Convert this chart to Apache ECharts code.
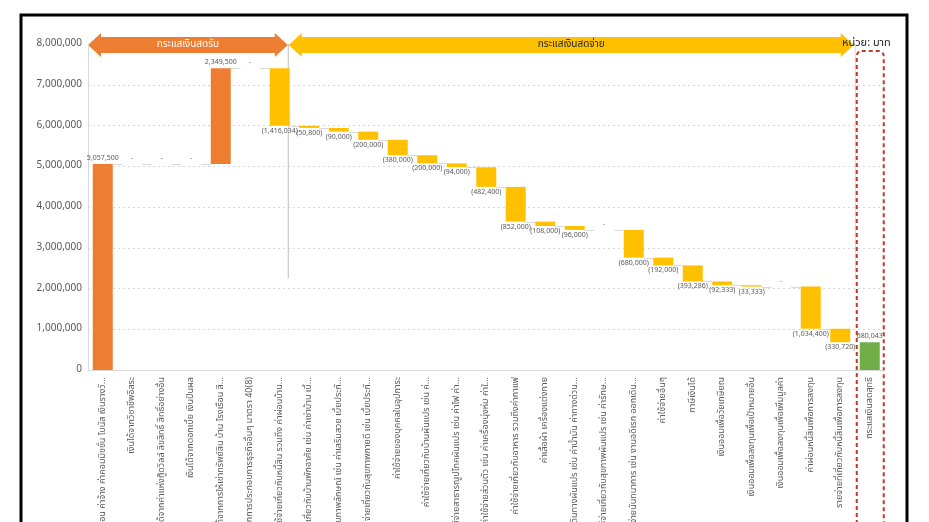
<!DOCTYPE html>
<html>
<head>
<meta charset="utf-8">
<script src="https://cdn.jsdelivr.net/npm/echarts@6/dist/echarts.min.js"></script>
<style>
html,body{margin:0;padding:0;background:#fff;}
#c{width:929px;height:522px;}
</style>
</head>
<body>
<div id="c"></div>
<script>
// ---- data ----
const categories = [
  "เงินเดือน ค่าจ้าง ค่าคอมมิชชั่น โบนัส เงินรางวั...",
  "เงินได้จากวิชาชีพอิสระ",
  "เงินได้จากค่าแห่งกู๊ดวิลล์ ลิขสิทธิ์ สิทธิ์อย่างอื่น",
  "เงินได้จากดอกเบี้ย เงินปันผล",
  "เงินได้จากการให้เช่าทรัพย์สิน บ้าน โรงเรือน สิ...",
  "เงินได้จากการประกอบการธุรกิจอื่นๆ มาตรา 40(8)",
  "ค่าใช้จ่ายเกี่ยวกับหนี้สิน รวมถึง ค่าผ่อนบ้าน...",
  "ค่าใช้จ่ายเกี่ยวกับบ้านพักอาศัย เช่น ค่าเช่าบ้าน เบี้...",
  "ค่าใช้จ่ายเกี่ยวกับภาพลักษณ์ เช่น ค่าเสริมสวย เบี้ยประกั...",
  "ค่าใช้จ่ายเกี่ยวกับสุขภาพกายดี เช่น เบี้ยประกั...",
  "ค่าใช้จ่ายของบุคคลในอุปการะ",
  "ค่าใช้จ่ายเกี่ยวกับบ้านผันแปร เช่น ค่...",
  "ค่าใช้จ่ายสาธารณูปโภคผันแปร เช่น ค่าไฟ ค่า...",
  "ค่าใช้จ่ายส่วนตัว เช่น ค่าเครื่องนุ่งห่ม ค่าใ...",
  "ค่าใช้จ่ายเกี่ยวกับอาหาร รวมถึงค่ากาแฟ",
  "ค่าเสื้อผ้า เครื่องแต่งกาย",
  "ค่าใช้จ่ายการเดินทางผันแปร เช่น ค่าน้ำมัน ค่าทางด่วน...",
  "ค่าใช้จ่ายเกี่ยวกับสุขภาพผันแปร เช่น ค่ารักษ...",
  "ค่าใช้จ่ายนันทนาการ เช่น งานอดิเรก ออกเดิน...",
  "ค่าใช้จ่ายอื่นๆ",
  "ภาษีเงินได้",
  "เงินออมเพื่อวัยเกษียณ",
  "เงินออมเพื่อลงทุนเพื่อเป้าหมายอื่น",
  "เงินออมเพื่อลงทุนเพื่อเพิ่มมูลค่า",
  "ค่าผ่อนหนี้สินเพื่อการลงทุน",
  "รายจ่ายที่เกี่ยวกับหนี้สินเพื่อการลงทุน",
  "กระแสเงินสดสุทธิ"
];
const incomeValues = [5057500, 0, 0, 0, 2349500, 0];
const expenseValues = [1416034, 50800, 90000, 200000, 380000, 200000, 94000, 482400,
  852000, 108000, 96000, 0, 680000, 192000, 393286, 92333, 33333, 0, 1034400, 330720];
const netCashFlow = 680043;
const yTicks = [0, 1000000, 2000000, 3000000, 4000000, 5000000, 6000000, 7000000, 8000000];

// ---- build waterfall ----
const fmt = v => v.toLocaleString('en-US');
const n = categories.length;
const base = [], inc = [], exp = [], net = [], levels = [];
let run = 0;
incomeValues.forEach((v, i) => {
  base.push(run);
  inc.push({value: v, label: {formatter: v === 0 ? '-' : fmt(v)}});
  exp.push('-'); net.push('-');
  run += v; levels.push(run);
});
expenseValues.forEach((v) => {
  base.push(run - v);
  inc.push('-'); net.push('-');
  exp.push(v === 0
    ? {value: 0, label: {position: 'top', formatter: '-'}}
    : {value: v, label: {position: 'bottom', formatter: '(' + fmt(v) + ')'}});
  run -= v; levels.push(run);
});
base.push(0); inc.push('-'); exp.push('-');
net.push({value: netCashFlow, label: {formatter: fmt(netCashFlow)}});
const connectors = [];
for (let i = 0; i < n - 2; i++) connectors.push([i, levels[i]]);

const FONT = '"Noto Sans Thai", "Noto Sans", "DejaVu Sans", sans-serif';
const BW = 20;
const chart = echarts.init(document.getElementById('c'));
const lbl = {show: true, fontSize: 7, color: '#595959', fontFamily: FONT, distance: 2};
chart.setOption({
  animation: false,
  textStyle: {fontFamily: FONT},
  grid: {left: 88, right: 44.5, top: 44, bottom: 152, containLabel: false, outerBoundsMode: 'none'},
  xAxis: {
    type: 'category', data: categories,
    axisLine: {show: true, lineStyle: {color: '#d9d9d9'}},
    axisTick: {show: false},
    axisLabel: {interval: 0, rotate: 90, fontSize: 9, color: '#595959', margin: 7, fontFamily: FONT}
  },
  yAxis: {
    type: 'value', min: yTicks[0], max: yTicks[yTicks.length - 1], interval: 1000000,
    axisLine: {show: true, lineStyle: {color: '#d9d9d9'}},
    axisTick: {show: false},
    splitLine: {show: true, lineStyle: {color: '#d9d9d9', type: [2, 3]}},
    axisLabel: {fontSize: 10, color: '#595959', margin: 6, formatter: v => fmt(v), fontFamily: FONT}
  },
  series: [
    {type: 'bar', stack: 'w', data: base, barWidth: BW, itemStyle: {color: 'transparent'}, silent: true},
    {type: 'bar', stack: 'w', data: inc, barWidth: BW, itemStyle: {color: '#ED7D31'},
     label: Object.assign({}, lbl, {position: 'top'})},
    {type: 'bar', stack: 'w', data: exp, barWidth: BW, itemStyle: {color: '#FFC000'},
     label: Object.assign({}, lbl, {position: 'bottom'})},
    {type: 'bar', stack: 'w', data: net, barWidth: BW, itemStyle: {color: '#70AD47'},
     label: Object.assign({}, lbl, {position: 'top'})},
    {type: 'custom', data: connectors, z: 1, silent: true,
     renderItem: (params, api) => {
       const p = api.coord([api.value(0), api.value(1)]);
       const band = api.size([1, 0])[0];
       const y = Math.round(p[1]) + 0.5;
       return {type: 'line', shape: {x1: p[0] + BW / 2, y1: y, x2: p[0] + band - BW / 2, y2: y},
               style: {stroke: '#d9d9d9', lineWidth: 1}};
     }}
  ]
});

// ---- decorations (arrows, separators, frame) ----
function arrowPts(x1, x2, cy, bh, hh, hl) {
  return [[x1, cy], [x1 + hl, cy - hh], [x1 + hl, cy - bh], [x2 - hl, cy - bh], [x2 - hl, cy - hh],
          [x2, cy], [x2 - hl, cy + hh], [x2 - hl, cy + bh], [x1 + hl, cy + bh], [x1 + hl, cy + hh]];
}
const x6 = chart.convertToPixel({xAxisIndex: 0}, 6);
const x26 = chart.convertToPixel({xAxisIndex: 0}, 26);
const sep1 = x6 + 8;
const sep2 = x26 - 15;
const yTop = chart.convertToPixel({yAxisIndex: 0}, 8000000);
const yMid = chart.convertToPixel({yAxisIndex: 0}, 2250000);
chart.setOption({
  graphic: [
    {type: 'rect', shape: {x: 21, y: 15, width: 886, height: 600}, style: {fill: 'none', stroke: '#000', lineWidth: 3}, z: 100},
    {type: 'line', shape: {x1: sep1 + 0.5, y1: yTop, x2: sep1 + 0.5, y2: yMid}, style: {stroke: '#bfbfbf', lineWidth: 1}},
    {type: 'line', shape: {x1: sep2 + 0.5, y1: yTop, x2: sep2 + 0.5, y2: yMid}, style: {stroke: '#d9d9d9', lineWidth: 1}},
    {type: 'polygon', shape: {points: arrowPts(88, sep1, 45, 8, 12, 13)}, style: {fill: '#ED7D31'}},
    {type: 'polygon', shape: {points: arrowPts(sep1 + 1, sep2 - 1, 45, 8, 12, 13)}, style: {fill: '#FFC000'}},
    {type: 'text', x: (88 + sep1) / 2, y: 45, style: {text: 'กระแสเงินสดรับ', fill: '#fff', fontSize: 10, fontFamily: FONT, align: 'center', verticalAlign: 'middle'}},
    {type: 'text', x: (sep1 + sep2) / 2, y: 45, style: {text: 'กระแสเงินสดจ่าย', fill: '#262626', fontSize: 10, fontFamily: FONT, align: 'center', verticalAlign: 'middle'}},
    {type: 'text', x: 842, y: 44, z: 50, style: {text: 'หน่วย: บาท', fill: '#262626', fontSize: 11, fontFamily: FONT, align: 'left', verticalAlign: 'middle'}},
    {type: 'rect', shape: {x: x26 - 13, y: 51, width: 27, height: 520, r: 5}, style: {fill: 'none', stroke: '#C0392B', lineWidth: 2, lineDash: [4, 3]}}
  ]
});
</script>
</body>
</html>
